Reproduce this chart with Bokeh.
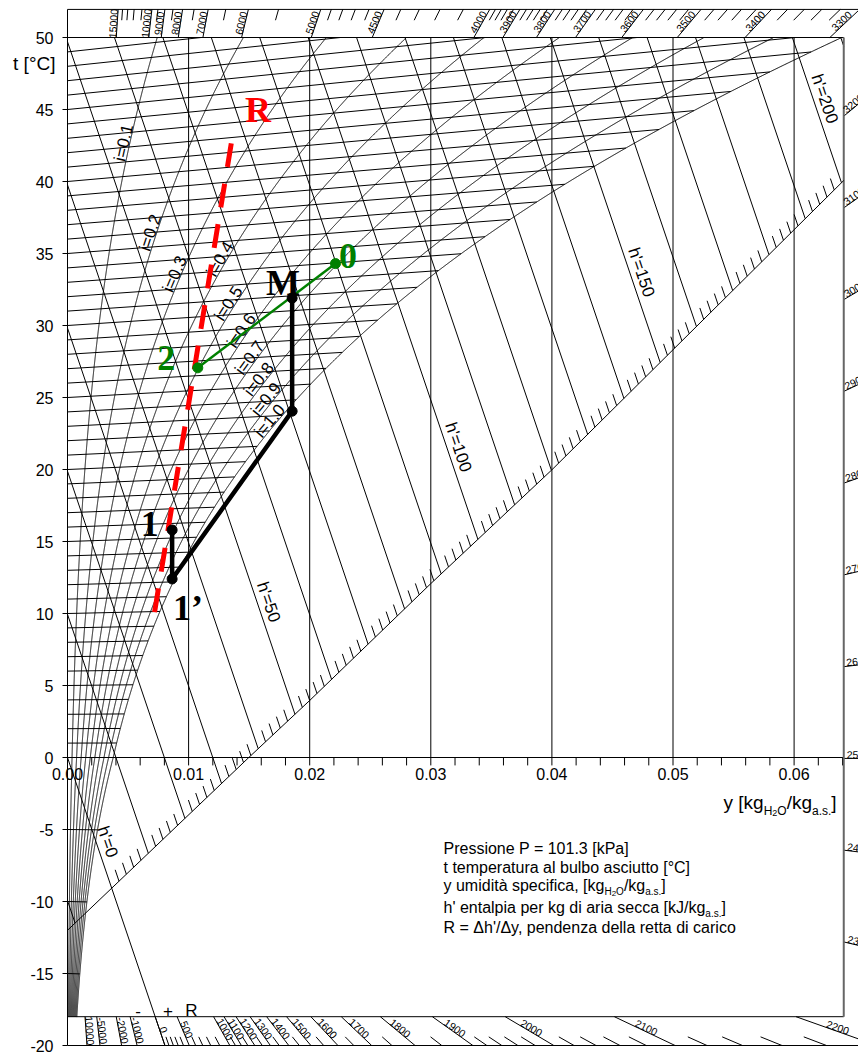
import numpy as np
from bokeh.plotting import figure
from bokeh.models import Range1d, ColumnDataSource
from bokeh.core.properties import value, field
from bokeh.embed import file_html
from bokeh.resources import INLINE

# ---------------- chart data ----------------
pressure_kPa = 101.3
t_axis_ticks = [-20, -15, -10, -5, 0, 5, 10, 15, 20, 25, 30, 35, 40, 45, 50]
t_axis_labels = [str(v) for v in t_axis_ticks]
y_major = [0.00, 0.01, 0.02, 0.03, 0.04, 0.05, 0.06]
y_major_labels = ["0.00", "0.01", "0.02", "0.03", "0.04", "0.05", "0.06"]
y_minor = [round(0.002 * k, 3) for k in range(0, 33)]
isotherms_main = list(range(0, 50))
isotherms_low = [-5, -10, -15]
rh_levels = [0.1, 0.2, 0.3, 0.4, 0.5, 0.6, 0.7, 0.8, 0.9, 1.0]
rh_labels = ["i=0.1", "i=0.2", "i=0.3", "i=0.4", "i=0.5", "i=0.6", "i=0.7", "i=0.8", "i=0.9", "i=1.0"]
rh_label_Y = [42.6, 36.3, 33.4, 34.4, 31.3, 29.4, 27.5, 26.0, 24.6, 23.1]
enthalpy_lines = list(range(-10, 211, 10))
enthalpy_hatches = [h for h in range(2, 201, 2) if h % 10]
h_label_values = [0, 50, 100, 150, 200]
h_labels = ["h'=0", "h'=50", "h'=100", "h'=150", "h'=200"]
h_label_Y = [-6.1, 10.55, 21.3, 33.45, 45.5]
scale_x = [0.0, 0.01497, 0.02, 0.02998, 0.04, 0.0641]
scale_Y = [-12.0, 0.0, 3.96, 12.06, 19.98, 40.07]

R_top_major = [15000, 10000, 9000, 8000, 7000, 6000, 5000, 4500, 4000,
               3900, 3800, 3700, 3600, 3500, 3400, 3300]
R_top_minor = ([11000, 12000, 13000, 14000] + [5500, 6500, 7500, 8500, 9500]
               + [4100, 4200, 4300, 4400, 4600, 4700, 4800, 4900]
               + [r for r in range(3320, 4000, 20) if r % 100])
R_right_major = [3200, 3100, 3000, 2900, 2800, 2700, 2600, 2500, 2400, 2300]
R_bottom_major = [-10000, -5000, -2000, -1000, 0, 500, 1000, 1100, 1200, 1300,
                  1400, 1500, 1600, 1700, 1800, 1900, 2000, 2100, 2200]
R_bottom_labels = ["10000", "-5000", "-2000", "-1000", "0", "500", "1000", "1100",
                   "1200", "1300", "1400", "1500", "1600", "1700", "1800", "1900",
                   "2000", "2100", "2200"]
R_bottom_minor = ([100, 200, 300, 400, 600, 700, 800, 900]
                  + [1050, 1150, 1250, 1350, 1450, 1550, 1650, 1750, 1850]
                  + [r for r in range(1920, 2200, 20) if r % 100])

# process (air-conditioning) states
mix_x = [0.02213, 0.01076]          # 0 -> 2
mix_Y = [34.3, 27.06]
coil_x = [0.00864, 0.00864, 0.01855, 0.01855]   # 1 -> 1' -> (24 °C) -> M
coil_Y = [15.8, 12.4, 24.05, 31.9]
load_x = [0.00719, 0.01365]         # dashed R line
load_Y = [10.1, 43.3]
state_text = ["0", "2", "M", "1", "1’", "R"]
state_x = [0.02316, 0.00816, 0.0178, 0.0068, 0.00995, 0.01573]
state_Y = [34.86, 27.74, 32.95, 16.2, 10.35, 44.97]
state_color = ["#008000", "#008000", "black", "black", "black", "#ff0000"]

# ---------------- geometry helpers ----------------
XPX = 12110.0     # px per unit y
YPX = 14.4        # px per °C
X_IN = 0.0641     # inner right frame
FONT = "Liberation Sans"


def psat(t):
    t = np.asarray(t, float)
    water = 0.61078 * np.exp(17.27 * t / (t + 237.3))
    ice = 0.61115 * np.exp(22.452 * t / (272.55 + t))
    return np.where(t < 0, ice, water)


def humidity(t, phi):
    pv = phi * psat(t)
    return 0.622 * pv / (pressure_kPa - pv)


def chart_Y(t, x):
    return t * (1.006 + 1.86 * x) / 1.006


def scr_angle(dx, dY):
    return float(np.arctan2(dY * YPX, dx * XPX))


xg = np.linspace(0, X_IN, 40001)
scale_on_grid = np.interp(xg, scale_x, scale_Y)


def scale_cross(h):
    f = (h - 2501 * xg) / 1.006 - scale_on_grid
    idx = np.where(f <= 0)[0]
    if len(idx) == 0 or idx[0] == 0:
        return None
    i = idx[0]
    x0, x1, f0, f1 = xg[i - 1], xg[i], f[i - 1], f[i]
    xc = x0 + (x1 - x0) * f0 / (f0 - f1)
    return xc, (h - 2501 * xc) / 1.006


W_PX, H_PX = 858, 1055
x_start = -67 / XPX
y_end = 50 + 37 / YPX
p = figure(width=W_PX, height=H_PX,
           x_range=Range1d(x_start, x_start + W_PX / XPX),
           y_range=Range1d(y_end - H_PX / YPX, y_end),
           output_backend="svg", toolbar_location=None,
           x_axis_location=None, y_axis_location=None,
           min_border_left=0, min_border_right=0, min_border_top=0, min_border_bottom=0)
p.outline_line_color = None
p.grid.visible = False
p.background_fill_color = "white"
p.border_fill_color = "white"

seg = {"x0": [], "y0": [], "x1": [], "y1": []}


def add_seg(a, b, c, d):
    seg["x0"].append(a); seg["y0"].append(b); seg["x1"].append(c); seg["y1"].append(d)


# frames and left axis
add_seg(0, 50, X_IN, 50)
add_seg(0, -18, X_IN, -18)
add_seg(0, 51.95, 0.0662, 51.95)
add_seg(0, -20, 0.0662, -20)
add_seg(0, -20, 0, 51.95)
for tv in t_axis_ticks:
    add_seg(-5 / XPX, tv, 0, tv)
# vertical y lines
for xv in y_major[1:]:
    add_seg(xv, 0, xv, 50)
# x axis + ticks
add_seg(0, 0, X_IN, 0)
for xv in y_minor:
    add_seg(xv, 0, xv, -0.55)
# isotherms
for t in isotherms_main + isotherms_low:
    xs = float(humidity(t, 1.0))
    Ys = float(chart_Y(t, xs))
    if Ys > 50:
        xs = (50 * 1.006 / t - 1.006) / 1.86
        Ys = 50.0
    add_seg(0, t, xs, Ys)
# isenthalps
for h in enthalpy_lines:
    Y0 = h / 1.006
    if Y0 <= 50:
        sx, sY = 0.0, Y0
    else:
        sx, sY = (h - 1.006 * 50) / 2501, 50.0
    if h == 0:
        ex, eY = 1.006 * 20 / 2501, -20.0
    else:
        c = scale_cross(h)
        if c is None:
            ex, eY = X_IN, (h - 2501 * X_IN) / 1.006
        else:
            ex, eY = c
    add_seg(sx, sY, ex, eY)
# hatches on the h' scale
dl = 12.0 / np.hypot(XPX, 2501 / 1.006 * YPX)
for h in enthalpy_hatches:
    c = scale_cross(h)
    if c is None:
        continue
    add_seg(c[0], c[1], c[0] - dl, c[1] + dl * 2501 / 1.006)


# R protractor ticks
def ray_x(R, Y):
    return 1.006 * Y / (R - 2501)


for R in R_top_major:
    add_seg(ray_x(R, 50), 50, ray_x(R, 51.95), 51.95)
for R in R_top_minor:
    add_seg(ray_x(R, 51.2), 51.2, ray_x(R, 51.95), 51.95)
for R in R_right_major:
    add_seg(X_IN, (R - 2501) * X_IN / 1.006, 0.0662, (R - 2501) * 0.0662 / 1.006)
for R in R_bottom_major:
    add_seg(ray_x(R, -18), -18, ray_x(R, -20), -20)
for R in R_bottom_minor:
    add_seg(ray_x(R, -19.4), -19.4, ray_x(R, -20), -20)

p.segment(x0="x0", y0="y0", x1="x1", y1="y1", source=ColumnDataSource(seg),
          line_color="black", line_width=1)
# inner right frame
p.segment(x0=[X_IN], y0=[-18], x1=[X_IN], y1=[50], line_color="#666666", line_width=2)
# h' scale line
p.line(scale_x, scale_Y, line_color="black", line_width=1)

# relative humidity curves
tt = np.arange(-18, 60, 0.02)
rh_xs, rh_ys = [], []
for phi in rh_levels:
    x = humidity(tt, phi)
    Y = chart_Y(tt, x)
    bad = np.where((Y > 50) | (x > X_IN))[0]
    n = bad[0] if len(bad) else len(tt)
    rh_xs.append(x[:n].tolist())
    rh_ys.append(Y[:n].tolist())
p.multi_line(rh_xs, rh_ys, line_color="black", line_width=1)

# ---------------- texts ----------------
txt = {"x": [], "y": [], "text": [], "angle": [], "size": [], "align": [], "base": []}


def add_txt(x, y, s, ang, size, align="center", base="middle"):
    txt["x"].append(x); txt["y"].append(y); txt["text"].append(s)
    txt["angle"].append(ang); txt["size"].append(size)
    txt["align"].append(align); txt["base"].append(base)


# axis texts
for tv, lab in zip(t_axis_ticks, t_axis_labels):
    add_txt(-14 / XPX, tv, lab, 0.0, "16px", "right", "middle")
add_txt(-12 / XPX, 48.2, "t [°C]", 0.0, "19px", "right", "middle")
for xv, lab in zip(y_major, y_major_labels):
    add_txt(xv, -0.72, lab, 0.0, "16px", "center", "top")

# RH labels
for phi, lab, Yl in zip(rh_levels, rh_labels, rh_label_Y):
    x = humidity(tt, phi)
    Y = chart_Y(tt, x)
    tl = float(np.interp(Yl, Y, tt))
    xl = float(humidity(tl, phi))
    x2 = float(humidity(tl + 0.3, phi))
    Y2 = float(chart_Y(tl + 0.3, x2))
    th = scr_angle(x2 - xl, Y2 - Yl)
    d = 6.0
    add_txt(xl - d * np.sin(th) / XPX, Yl + d * np.cos(th) / YPX, lab, th, "17px")
# h' labels
th_h = scr_angle(1.0, -2501 / 1.006)
for h, lab, Yl in zip(h_label_values, h_labels, h_label_Y):
    xl = (h - 1.006 * Yl) / 2501
    d = 11.0
    add_txt(xl - d * np.sin(th_h) / XPX, Yl + d * np.cos(th_h) / YPX, lab, th_h, "17px")
# R labels
for R in R_top_major:
    add_txt(ray_x(R, 50.95), 50.95, str(R), scr_angle(1.0, (R - 2501) / 1.006), "10.5px", "center", "bottom")
for R in R_right_major:
    xl = X_IN + 0.00025
    add_txt(xl, (R - 2501) * xl / 1.006, str(R), scr_angle(1.0, (R - 2501) / 1.006), "10.5px", "left", "bottom")
for R, lab in zip(R_bottom_major, R_bottom_labels):
    add_txt(ray_x(R, -19.0), -19.0, lab, scr_angle(1.0, (R - 2501) / 1.006), "10.5px", "center", "bottom")
# - + R
add_txt(0.00582, -17.6, "-", 0.0, "17px", "center", "alphabetic")
add_txt(0.0083, -17.6, "+", 0.0, "17px", "center", "alphabetic")
add_txt(0.01024, -17.6, "R", 0.0, "17px", "center", "alphabetic")

# rich texts (legend + axis title)
W = {' ': 278, "'": 191, ',': 278, '.': 278, '/': 278, '=': 584, '[': 278, ']': 278,
     '°': 400, 'C': 722, 'H': 722, 'J': 500, 'O': 778, 'P': 667, 'R': 722, 'a': 556,
     'b': 556, 'c': 500, 'd': 556, 'e': 556, 'f': 278, 'g': 556, 'h': 556, 'i': 222,
     'k': 500, 'l': 222, 'm': 833, 'n': 556, 'o': 556, 'p': 556, 'r': 333, 's': 500,
     't': 278, 'u': 556, 'y': 500, 'à': 556}


def twidth(s, size):
    return sum(W.get(ch, 556) for ch in s) * size / 1000.0


def add_rich(pieces, x0_px, base_px):
    xp = x0_px
    for s, size, dy in pieces:
        add_txt((xp - 67) / XPX, (757 - base_px - dy) / YPX, s, 0.0, f"{size}px", "left", "alphabetic")
        xp += twidth(s, size)


add_rich([("y [kg", 19, 0), ("H", 12, 8), ("2", 9, 10), ("O", 12, 8), ("/kg", 19, 0),
          ("a.s.", 12, 8), ("]", 19, 0)], 723, 802)
add_rich([("Pressione P = 101.3 [kPa]", 16, 0)], 443, 848)
add_rich([("t temperatura al bulbo asciutto [°C]", 16, 0)], 443, 867)
add_rich([("y umidità specifica, [kg", 16, 0), ("H", 10, 6), ("2", 8, 8), ("O", 10, 6),
          ("/kg", 16, 0), ("a.s.", 10, 6), ("]", 16, 0)], 443, 885)
add_rich([("h' entalpia per kg di aria secca [kJ/kg", 16, 0), ("a.s.", 10, 6), ("]", 16, 0)], 443, 907)
add_rich([("R = Δh'/Δy, pendenza della retta di carico", 16, 0)], 443, 927)

p.text(x="x", y="y", text="text", angle="angle", source=ColumnDataSource(txt),
       text_font=value(FONT), text_font_size=field("size"), text_align=field("align"),
       text_baseline=field("base"), text_color="black")

# ---------------- process lines ----------------
p.line(load_x, load_Y, line_color="#ff0000", line_width=5, line_dash="24 17")
p.line(mix_x, mix_Y, line_color="#008000", line_width=2.5)
p.scatter(mix_x, mix_Y, size=10, color="#008000")
p.line(coil_x, coil_Y, line_color="black", line_width=4.5, line_join="round")
p.scatter(coil_x, coil_Y, size=10, color="black")
p.text(x=state_x, y=state_Y, text=state_text, text_color=state_color,
       text_font=value("Liberation Serif"), text_font_style="bold", text_font_size="36px",
       text_align="center", text_baseline="middle")

open("out.html", "w").write(file_html(p, INLINE))
